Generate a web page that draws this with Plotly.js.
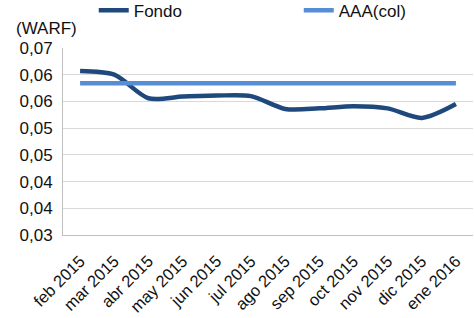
<!DOCTYPE html>
<html><head><meta charset="utf-8">
<script src="https://cdn.plot.ly/plotly-3.0.1.min.js"></script>
<style>html,body{margin:0;padding:0;background:#fff}#chart{width:474px;height:318px}</style>
</head><body><div id="chart"></div>
<script>
var months = ["feb 2015","mar 2015","abr 2015","may 2015","jun 2015","jul 2015","ago 2015","sep 2015","oct 2015","nov 2015","dic 2015","ene 2016"];
var fondo = [0.0607,0.0600,0.0556,0.0559,0.0561,0.0560,0.0536,0.0537,0.0541,0.0537,0.0519,0.0545];
var aaa = [0.0584,0.0584,0.0584,0.0584,0.0584,0.0584,0.0584,0.0584,0.0584,0.0584,0.0584,0.0584];
var yTickVals = [0.03,0.035,0.04,0.045,0.05,0.055,0.06,0.065];
var yTickText = ["0,03","0,04","0,04","0,05","0,05","0,06","0,06","0,07"];

var traces = [
 {x: months, y: fondo, name: "Fondo", mode: "lines", line: {color: "#1F497D", width: 4.5, shape: "spline", smoothing: 0.8}},
 {x: months, y: aaa, name: "AAA(col)", mode: "lines", line: {color: "#558ED5", width: 4.5}}
];
var layout = {
 width: 474, height: 318,
 margin: {l: 63, r: 1, t: 48, b: 83, autoexpand: false},
 paper_bgcolor: "#fff", plot_bgcolor: "#fff",
 font: {family: "Liberation Sans, Arial, sans-serif", size: 17, color: "#111"},
 showlegend: true,
 legend: {orientation: "h", x: 0.075, xanchor: "left", y: 1.2, yanchor: "middle", entrywidth: 160, font: {size: 17}},
 xaxis: {type: "category", range: [-0.5, 11.5], tickangle: -45, showgrid: false, showline: true, linecolor: "#bfbfbf", linewidth: 1, ticks: "", ticklabelstandoff: 9, tickfont: {size: 16.5}},
 yaxis: {range: [0.03, 0.065], tickvals: yTickVals, ticktext: yTickText, showgrid: true, gridcolor: "#d9d9d9", gridwidth: 1, showline: true, linecolor: "#bfbfbf", linewidth: 1, ticks: "", zeroline: false, ticklabelstandoff: 6, tickfont: {size: 17}},
 annotations: [{text: "(WARF)", xref: "paper", yref: "paper", x: -0.12, y: 1.0, xanchor: "left", yanchor: "bottom", yshift: 8, showarrow: false, font: {size: 17}}]
};
Plotly.newPlot("chart", traces, layout, {staticPlot: true});
</script></body></html>
